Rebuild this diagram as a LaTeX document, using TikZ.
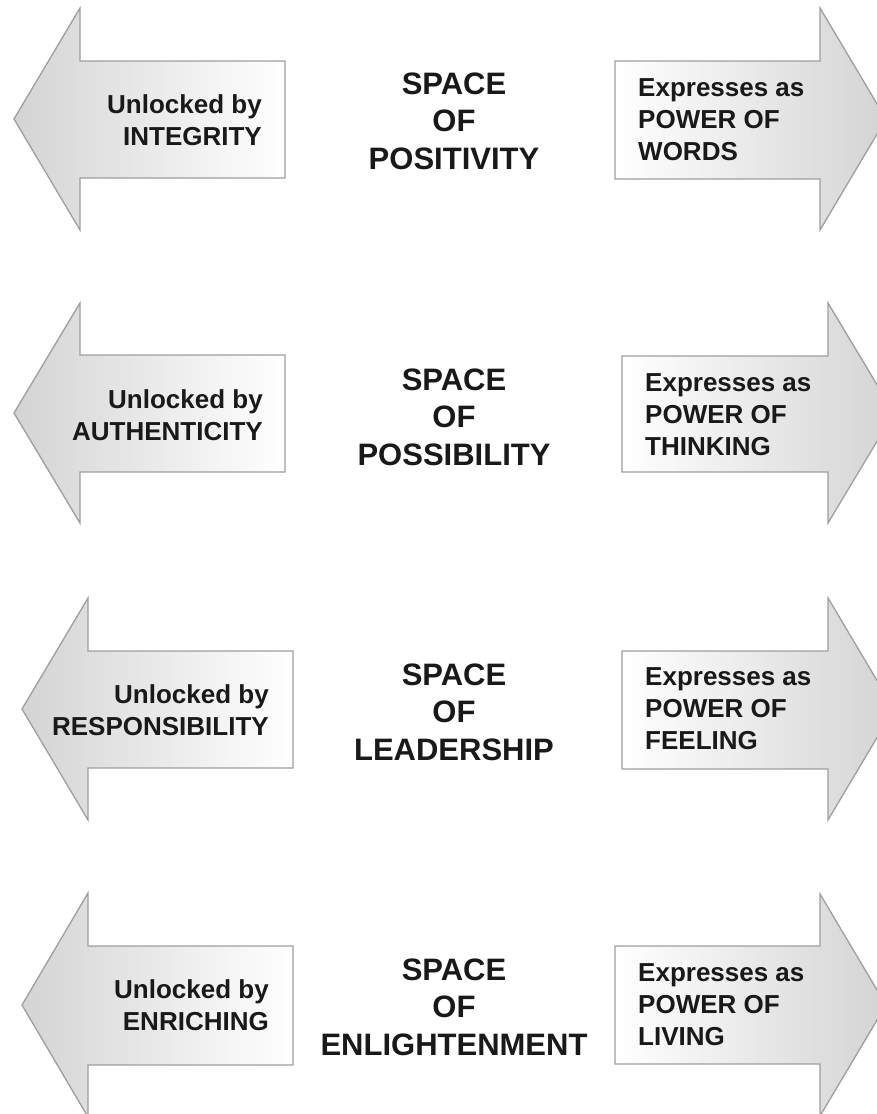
\documentclass[tikz,border=0pt]{standalone}
\usepackage{fontspec}
\setmainfont{Liberation Sans}
\begin{document}
\begin{tikzpicture}[x=1pt,y=-1pt,
  larrow/.style={draw=black!38, line width=1.3pt, line join=miter, left color=black!17, right color=white},
  rarrow/.style={draw=black!38, line width=1.3pt, line join=miter, left color=white, right color=black!17},
  ltext/.style={inner sep=0pt, anchor=east, align=right, font=\fontsize{26}{32}\selectfont\bfseries, text=black!90},
  rtext/.style={inner sep=0pt, anchor=west, align=left, font=\fontsize{26}{32}\selectfont\bfseries, text=black!90},
  ctext/.style={inner sep=0pt, align=center, font=\fontsize{31}{37.5}\selectfont\bfseries, text=black!90}]
\useasboundingbox (0,0) rectangle (876,1114);
% Row 1
\draw[larrow] (14,119) -- (80,8) -- (80,61) -- (285,61) -- (285,178) -- (80,178) -- (80,230) -- cycle;
\draw[rarrow] (886,119) -- (820,8) -- (820,61) -- (615,61) -- (615,179) -- (820,179) -- (820,230) -- cycle;
\node[ltext] (l1) at (262,120) {Unlocked by\\INTEGRITY};
\node[ctext] (c1) at (454,121) {SPACE\\OF\\POSITIVITY};
\node[rtext] (r1) at (638,120) {Expresses as\\POWER OF\\WORDS};
% Row 2
\draw[larrow] (14,413) -- (80,303) -- (80,355) -- (285,355) -- (285,472) -- (80,472) -- (80,523) -- cycle;
\draw[rarrow] (894,413) -- (828,303) -- (828,356) -- (622,356) -- (622,472) -- (828,472) -- (828,523) -- cycle;
\node[ltext] (l2) at (263,415) {Unlocked by\\AUTHENTICITY};
\node[ctext] (c2) at (454,417) {SPACE\\OF\\POSSIBILITY};
\node[rtext] (r2) at (645,415) {Expresses as\\POWER OF\\THINKING};
% Row 3
\draw[larrow] (22,709) -- (88,598) -- (88,651) -- (293,651) -- (293,768) -- (88,768) -- (88,820) -- cycle;
\draw[rarrow] (894,709) -- (828,598) -- (828,651) -- (622,651) -- (622,769) -- (828,769) -- (828,820) -- cycle;
\node[ltext] (l3) at (269,710) {Unlocked by\\RESPONSIBILITY};
\node[ctext] (c3) at (454,712) {SPACE\\OF\\LEADERSHIP};
\node[rtext] (r3) at (645,709) {Expresses as\\POWER OF\\FEELING};
% Row 4
\draw[larrow] (22,1005) -- (88,893) -- (88,946) -- (293,946) -- (293,1065) -- (88,1065) -- (88,1117) -- cycle;
\draw[rarrow] (886,1005) -- (820,894) -- (820,946) -- (615,946) -- (615,1064) -- (820,1064) -- (820,1116) -- cycle;
\node[ltext] (l4) at (269,1005) {Unlocked by\\ENRICHING};
\node[ctext] (c4) at (454,1007) {SPACE\\OF\\ENLIGHTENMENT};
\node[rtext] (r4) at (638,1005) {Expresses as\\POWER OF\\LIVING};
\end{tikzpicture}
\end{document}
